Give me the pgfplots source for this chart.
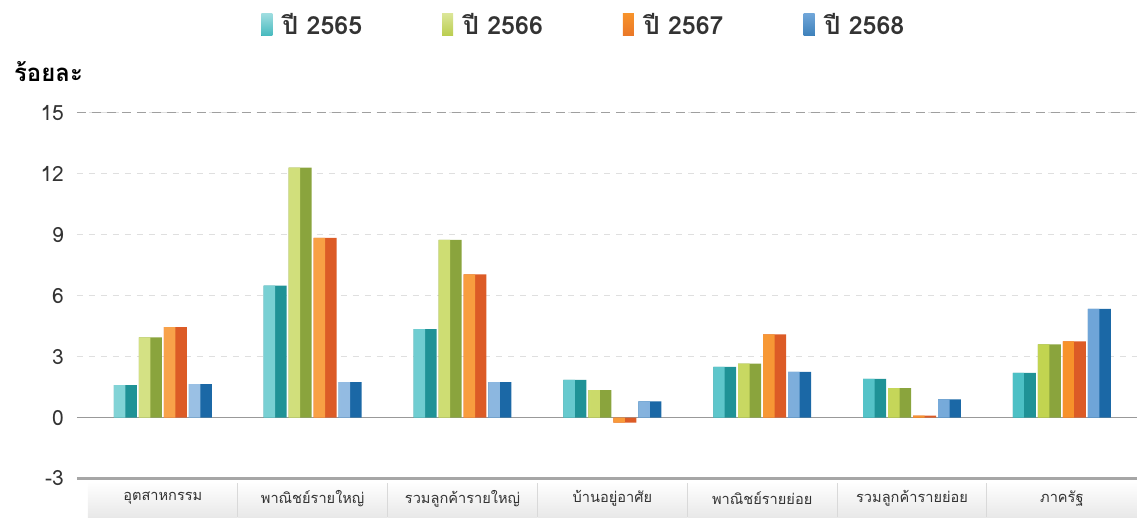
\documentclass[border=0pt]{standalone}
\usepackage{fontspec}
\setmainfont[Script=Thai]{Loma}
\usepackage{pgfplots}
\pgfplotsset{compat=1.18}
\definecolor{tealL}{HTML}{4CC0C5}
\definecolor{tealD}{HTML}{1F9296}
\definecolor{greenL}{HTML}{C2D450}
\definecolor{greenD}{HTML}{8AA43D}
\definecolor{orangeL}{HTML}{F7922A}
\definecolor{orangeD}{HTML}{DC5B26}
\definecolor{blueL}{HTML}{6FA5D8}
\definecolor{blueD}{HTML}{1B68A6}
\definecolor{txt}{HTML}{333333}
\pgfplotstableread{
x a b c d
0 1.60 3.95 4.45 1.65
1 6.50 12.30 8.85 1.75
2 4.35 8.75 7.05 1.75
3 1.85 1.35 -0.25 0.80
4 2.50 2.65 4.10 2.25
5 1.90 1.45 0.10 0.90
6 2.20 3.60 3.75 5.35
}\data
\begin{document}
\begin{tikzpicture}
\begin{axis}[name=ax, scale only axis, width=530.5pt, height=183pt,
  xmin=-0.5733, xmax=6.5, ymin=-3, ymax=15,
  clip=false,
  ybar,
  separate axis lines,
  axis x line*=bottom,
  x axis line style={draw=gray!70, line width=1.2pt, -},
  axis y line*=left,
  y axis line style={draw=none},
  major tick length=0pt,
  ytick={-3,0,3,6,9,12,15},
  ymajorgrids,
  grid style={dash pattern=on 3pt off 3pt, draw=gray!25, line width=0.5pt},
  xtick=\empty,
  yticklabel style={font=\fontsize{10.5}{12}\selectfont, text=txt, xshift=-3pt},
  /pgf/number format/assume math mode=true,
  legend columns=4,
  legend style={draw=none, fill=none, at={(0.5,1)}, anchor=center, xshift=-11pt, yshift=44pt,
    font=\bfseries\fontsize{12.5}{14}\selectfont, text=txt,
    /tikz/every odd column/.append style={column sep=3pt},
    /tikz/every even column/.append style={column sep=38pt}},
]
% category band
\pgfplotsinvokeforeach{0,...,6}{
  \shade[top color=white, bottom color=gray!18] ([yshift=-1.5pt]axis cs:#1-0.5,-3) rectangle ([yshift=-19.5pt]axis cs:#1+0.5,-3);
}
\pgfplotsinvokeforeach{0,...,5}{
  \draw[gray!30, line width=0.5pt] ([yshift=-2.5pt]axis cs:#1+0.5,-3) -- ([yshift=-19.5pt]axis cs:#1+0.5,-3);
}
\pgfplotsforeachungrouped \i/\lab in {0/อุตสาหกรรม,1/พาณิชย์รายใหญ่,2/รวมลูกค้ารายใหญ่,3/บ้านอยู่อาศัย,4/พาณิชย์รายย่อย,5/รวมลูกค้ารายย่อย,6/ภาครัฐ}{
  \edef\temp{\noexpand\node[font=\noexpand\fontsize{7.3}{9}\noexpand\selectfont, text=txt] at ([yshift=-10pt]axis cs:\i,-3) {\lab};}
  \temp
}
\draw[gray!80, line width=0.9pt] (axis cs:-0.5733,0) -- (axis cs:6.5,0);
\draw[gray!75, line width=0.6pt, dash pattern=on 4.5pt off 3pt] (axis cs:-0.5733,15) -- (axis cs:6.5,15);
% dark full bars
\addplot[draw=none, fill=tealD, bar width=11.5pt, bar shift=-18.75pt,
  legend image code/.code={\shade[top color=tealL!55!white, bottom color=tealL!85!tealD] (0pt,-5.5pt) rectangle (5.5pt,5.5pt);}] table[x=x,y=a]{\data};
\addlegendentry{ปี 2565}
\addplot[draw=none, fill=greenD, bar width=11.5pt, bar shift=-6.25pt,
  legend image code/.code={\shade[top color=greenL!60!white, bottom color=greenL!85!greenD] (0pt,-5.5pt) rectangle (5.5pt,5.5pt);}] table[x=x,y=b]{\data};
\addlegendentry{ปี 2566}
\addplot[draw=none, fill=orangeD, bar width=11.5pt, bar shift=6.25pt,
  legend image code/.code={\shade[top color=orangeL, bottom color=orangeL!50!orangeD] (0pt,-5.5pt) rectangle (5.5pt,5.5pt);}] table[x=x,y=c]{\data};
\addlegendentry{ปี 2567}
\addplot[draw=none, fill=blueD, bar width=11.5pt, bar shift=18.75pt,
  legend image code/.code={\shade[top color=blueL, bottom color=blueL!40!blueD] (0pt,-5.5pt) rectangle (5.5pt,5.5pt);}] table[x=x,y=d]{\data};
\addlegendentry{ปี 2568}
% light left halves
\addplot[forget plot, draw=none, left color=tealL!70!white, right color=tealL, bar width=5.75pt, bar shift=-21.625pt] table[x=x,y=a]{\data};
\addplot[forget plot, draw=none, left color=greenL!70!white, right color=greenL, bar width=5.75pt, bar shift=-9.125pt] table[x=x,y=b]{\data};
\addplot[forget plot, draw=none, left color=orangeL!85!white, right color=orangeL, bar width=5.75pt, bar shift=3.375pt] table[x=x,y=c]{\data};
\addplot[forget plot, draw=none, left color=blueL!70!white, right color=blueL, bar width=5.75pt, bar shift=15.875pt] table[x=x,y=d]{\data};
\end{axis}
\node[anchor=west, font=\bfseries\fontsize{12}{14}\selectfont, text=black] at ([xshift=-35pt,yshift=20.5pt]ax.north west) {ร้อยละ};
\useasboundingbox ([shift={(-38.5pt,-19.5pt)}]ax.south west) rectangle ([shift={(0pt,56.5pt)}]ax.north east);
\end{tikzpicture}
\end{document}
